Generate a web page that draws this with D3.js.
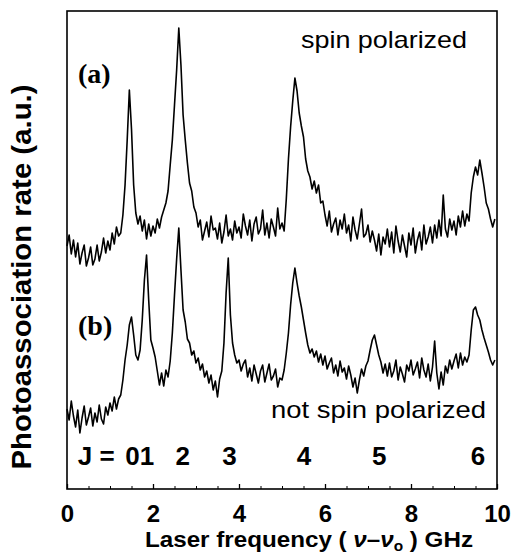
<!DOCTYPE html>
<html>
<head>
<meta charset="utf-8">
<script src="https://cdn.jsdelivr.net/npm/d3@7"></script>
<style>
  body { margin: 0; background: #fff; }
  svg { display: block; }
  .sans { font-family: "Liberation Sans", Arial, Helvetica, sans-serif; }
  .serif { font-family: "Liberation Serif", "Times New Roman", serif; }
</style>
</head>
<body>
<div id="graph_container"></div>
<script>
// sampling grid of the scans (GHz)
var freqs = d3.range(0, 10, 0.05);

// (a) spin polarized (a.u.)
var spinPolarized = [
    24.3, 25.4, 23.5, 24.9, 23.2, 24.6, 22.5, 23.6, 24.4, 22.3,
    23.1, 24.2, 22.4, 23.0, 24.4, 22.8, 23.7, 25.1, 23.6, 24.8,
    23.9, 25.6, 24.5, 26.2, 25.3, 25.6, 27.4, 30.4, 34.9, 39.9,
    36.0, 30.4, 27.6, 26.5, 27.3, 25.8, 26.9, 25.0, 26.5, 25.3,
    26.3, 25.6, 27.0, 26.1, 27.2, 27.9, 28.6, 29.8, 32.4, 34.9,
    38.4, 41.9, 46.1, 42.4, 37.4, 34.9, 32.6, 30.6, 29.8, 28.2,
    27.6, 26.2, 26.9, 24.9, 25.8, 26.7, 25.2, 27.3, 25.9, 26.1,
    25.0, 26.6, 24.6, 25.7, 27.4, 25.3, 26.0, 24.9, 26.8, 25.6,
    26.2, 25.1, 27.5, 26.3, 25.4, 26.9, 24.8, 26.5, 27.2, 25.5,
    26.0, 27.9, 25.4, 26.6, 25.1, 27.0, 26.2, 25.3, 28.1, 26.0,
    26.6, 25.8, 29.0, 33.0, 36.2, 38.8, 41.1, 39.8, 37.6, 36.3,
    35.2, 33.0, 31.8, 31.2, 30.0, 30.8, 29.6, 30.4, 28.6, 28.8,
    27.4, 26.3, 27.8, 25.7, 26.5, 27.1, 25.4, 26.9, 26.0, 27.5,
    25.6, 26.4, 24.8, 27.2, 25.9, 25.0, 26.5, 28.0, 25.2, 25.5,
    26.4, 24.7, 25.8, 24.9, 23.8, 25.5, 23.4, 25.2, 24.5, 26.0,
    24.2, 25.7, 23.6, 26.3, 24.8, 23.7, 25.4, 24.3, 23.2, 25.6,
    24.4, 26.1, 23.6, 24.9, 25.7, 23.9, 26.4, 24.5, 25.2, 26.2,
    24.6, 26.4, 25.1, 26.9, 25.3, 29.4, 26.0, 25.2, 27.0, 25.9,
    26.8, 25.4, 27.3, 26.2, 27.8, 26.3, 27.5, 26.8, 29.6, 31.2,
    32.2, 31.4, 32.9, 31.6, 30.2, 28.6, 28.0, 27.0, 26.2, 27.0
];

// (b) not spin polarized (a.u.)
var notSpinPolarized = [
    8.0, 6.9, 8.8, 7.3, 6.2, 7.9, 5.6, 7.1, 8.3, 6.4,
    7.2, 8.1, 6.3, 7.6, 6.7, 8.4, 7.0, 6.5, 8.2, 7.4,
    8.6, 7.8, 9.2, 8.0, 9.0, 9.4, 10.9, 12.9, 14.4, 16.4,
    17.2, 15.4, 13.4, 12.9, 13.9, 16.9, 20.9, 23.4, 18.9, 14.9,
    14.1, 13.2, 11.8, 10.4, 11.6, 10.3, 11.9, 11.2, 12.8, 15.6,
    19.4, 23.0, 26.1, 21.9, 17.9, 16.7, 15.0, 14.6, 13.4, 13.8,
    12.6, 13.1, 11.9, 12.5, 11.2, 11.8, 10.6, 11.4, 9.9, 10.8,
    9.2, 11.0, 11.8, 14.6, 19.6, 23.1, 17.4, 14.6, 13.4, 12.6,
    12.9, 11.8, 12.5, 12.9, 11.2, 12.1, 10.8, 12.4, 11.5, 10.6,
    11.8, 12.4, 10.7, 11.6, 12.5, 10.9, 11.3, 12.0, 10.2, 11.1,
    10.9, 11.9, 13.6, 15.6, 18.4, 20.6, 22.1, 20.6, 19.3, 18.2,
    16.9, 15.6, 14.4, 13.6, 14.0, 13.2, 13.8, 12.7, 13.5, 12.4,
    13.3, 12.0, 12.6, 13.1, 11.6, 12.4, 11.3, 12.8, 11.7, 12.1,
    11.0, 12.3, 11.4, 10.2, 11.1, 9.6, 10.9, 12.0, 11.3, 12.3,
    12.8, 13.9, 14.9, 15.4, 14.4, 13.4, 12.7, 11.6, 12.5, 11.3,
    12.6, 11.2, 11.8, 12.9, 10.9, 12.2, 11.5, 10.7, 12.4, 11.8,
    12.9, 11.4, 12.0, 12.7, 11.1, 13.1, 11.9, 11.2, 12.5, 10.8,
    12.2, 14.8, 11.6, 10.0, 11.7, 10.4, 12.3, 11.6, 12.9, 12.0,
    12.8, 13.5, 12.1, 13.6, 12.4, 13.2, 12.7, 13.4, 15.9, 17.9,
    18.2, 17.4, 16.9, 15.9, 15.1, 14.4, 13.7, 12.9, 12.4, 12.9
];

var xTicks = [0, 2, 4, 6, 8, 10];
var xMinorTicks = d3.range(0, 10.01, 0.5);

// rotational line labels J = 0..6 and where they sit (GHz)
var jText = ["0", "1", "2", "3", "4", "5", "6"];
var jFreq = [1.52, 1.86, 2.69, 3.78, 5.51, 7.26, 9.56];

function createGraph() {
    var frame_width  = 514,
        frame_height = 558,
        margin       = {top: 11, right: 17, bottom: 69, left: 67},
        width        = frame_width - margin.left - margin.right,
        height       = frame_height - margin.top - margin.bottom;

    var svg = d3.select("#graph_container").append("svg")
        .attr("width", frame_width)
        .attr("height", frame_height);

    var g = svg.append("g")
        .attr("transform", "translate(" + margin.left + "," + margin.top + ")");

    var x = d3.scaleLinear().domain([0, 10]).range([0, width]);
    var y = d3.scaleLinear().domain([0, 47.8]).range([height, 0]);

    var line = d3.line()
        .x(function(d) { return x(d[0]); })
        .y(function(d) { return y(d[1]); });

    // traces
    g.append("path")
        .datum(d3.zip(freqs, spinPolarized))
        .attr("fill", "none")
        .attr("stroke", "#000")
        .attr("stroke-width", 1.6)
        .attr("stroke-linejoin", "round")
        .attr("d", line);

    g.append("path")
        .datum(d3.zip(freqs, notSpinPolarized))
        .attr("fill", "none")
        .attr("stroke", "#000")
        .attr("stroke-width", 1.6)
        .attr("stroke-linejoin", "round")
        .attr("d", line);

    // frame
    g.append("rect")
        .attr("width", width)
        .attr("height", height)
        .attr("fill", "none")
        .attr("stroke", "#000")
        .attr("stroke-width", 1.6);

    // bottom axis, ticks point inward
    g.append("g")
        .attr("transform", "translate(0," + height + ")")
        .call(d3.axisBottom(x).tickValues(xMinorTicks).tickSize(-3).tickFormat(""))
        .call(function(a) { a.select(".domain").remove(); });

    var xAxis = g.append("g")
        .attr("transform", "translate(0," + height + ")")
        .call(d3.axisBottom(x).tickValues(xTicks).tickSize(-5).tickPadding(16).tickFormat(d3.format("d")));
    xAxis.select(".domain").remove();
    xAxis.selectAll("text")
        .attr("font-size", 24)
        .attr("font-weight", "bold")
        .attr("font-family", "Liberation Sans, Arial, sans-serif")
        .attr("fill", "#000");
    xAxis.selectAll("line").attr("stroke-width", 1.3);

    // axis titles
    var xl = svg.append("text")
        .attr("class", "sans")
        .attr("x", 309)
        .attr("y", 547)
        .attr("text-anchor", "middle")
        .attr("font-size", 22)
        .attr("font-weight", "bold")
        .attr("textLength", 328)
        .attr("lengthAdjust", "spacingAndGlyphs");
    xl.append("tspan").text("Laser frequency ( ");
    xl.append("tspan").attr("font-style", "italic").text("\u03bd");
    xl.append("tspan").text("\u2013");
    xl.append("tspan").attr("font-style", "italic").text("\u03bd");
    xl.append("tspan").attr("font-size", 14).attr("dy", 4).text("o");
    xl.append("tspan").attr("dy", -4).text(" ) GHz");

    svg.append("text")
        .attr("class", "sans")
        .attr("transform", "translate(31,277) rotate(-90)")
        .attr("text-anchor", "middle")
        .attr("font-size", 27)
        .attr("font-weight", "bold")
        .attr("textLength", 385)
        .attr("lengthAdjust", "spacingAndGlyphs")
        .text("Photoassociation rate (a.u.)");

    // panel labels
    svg.append("text").attr("class", "serif")
        .attr("x", 78).attr("y", 83)
        .attr("font-size", 28)
        .attr("font-weight", "bold")
        .text("(a)");
    svg.append("text").attr("class", "serif")
        .attr("x", 78).attr("y", 335)
        .attr("font-size", 28)
        .attr("font-weight", "bold")
        .text("(b)");

    svg.append("text").attr("class", "sans")
        .attr("x", 467).attr("y", 48)
        .attr("text-anchor", "end")
        .attr("font-size", 24)
        .attr("textLength", 166)
        .attr("lengthAdjust", "spacingAndGlyphs")
        .text("spin polarized");
    svg.append("text").attr("class", "sans")
        .attr("x", 486).attr("y", 418)
        .attr("text-anchor", "end")
        .attr("font-size", 24)
        .attr("textLength", 215)
        .attr("lengthAdjust", "spacingAndGlyphs")
        .text("not spin polarized");

    // J labels
    g.append("text").attr("class", "sans")
        .attr("x", x(0.25)).attr("y", 465 - margin.top)
        .attr("font-size", 26)
        .attr("font-weight", "bold")
        .text("J =");
    g.selectAll(".jlab")
        .data(jText)
      .enter().append("text")
        .attr("class", "jlab sans")
        .attr("x", function(d, i) { return x(jFreq[i]); })
        .attr("y", 465 - margin.top)
        .attr("text-anchor", "middle")
        .attr("font-size", 26)
        .attr("font-weight", "bold")
        .text(function(d) { return d; });
}

createGraph();
</script>
</body>
</html>
